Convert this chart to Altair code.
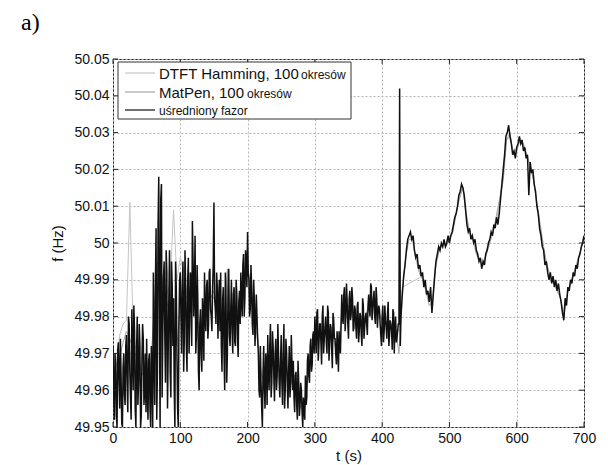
import altair as alt
import pandas as pd

# ---------------- data (frequency deviation from 50 Hz, in mHz) ----------------
# averaged phasor ("uśredniony fazor")
black_a = [  # t = 0, 2, .. 298
    -28, -48, -33, -50, -27, -45, -36, -50, -30, -44,
    -25, -46, -22, -42, -18, -40, -24, -50, -20, -38, -28, -47, -22, -44, -30,
    -26, -48, -30, -50, -35,
    -8, -44, 4, -35, 18, -50, 16, -25,
    -5, -38, -8, -30, -2, -42, -12,
    -15, -50, -12, -45, -22,
    -8, -30, -5, -26, -12, -35, -4, -22,
    -10, 6, -20, 2, -25,
    -15, -40, -18, -35, -20,
    -8, -24, -10, -22, -7, -20, -12, 11, -18, -8, -26, -10,
    -8, -35, -12, -40, -15, -30, -7, -28,
    -10, -30, -12, -28, -14, -31, -13,
    -8, -20, -3, -15, -5, 3, -10, -18,
    -12, -25, -15, -22, -20,
    -30, -42, -38, -50, -28, -45, -32,
    -25, -40, -22, -38, -28, -43, -26, -36, -30, -42,
    -25, -44, -22, -40, -30, -45, -28, -38, -33,
    -32, -46, -35, -48, -38, -44, -40, -50, -45,
    -36, -42, -30, -38, -26, -33, -24,
]
black_a_odd = [  # t = 1, 3, .. 299
    -40, -30, -47, -29, -38, -26, -49, -34, -41, -28,
    -38, -20, -35, -48, -28, -17, -45, -30, -44, -22, -50, -32, -26, -40, -46,
    -40, -32, -45, -28, -50,
    -30, -12, -48, 5, -20, 12, -42, -10,
    -25, -2, -45, -15, -35, -5, -28,
    -40, -5, -30, -50, -10,
    -20, -12, -35, -2, -28, -10, -30, -8,
    -28, -5, -12, -30, -6,
    -35, -22, -30, -15, -32,
    -20, -12, -26, -8, -18, -24, -6, -15, -22, -12, -16, -24,
    -28, -15, -30, -8, -38, -12, -25, -18,
    -24, -14, -27, -10, -25, -16, -22,
    -15, -6, -20, -2, -12, -8, -20, -6,
    -22, -10, -28, -14, -26,
    -40, -28, -45, -35, -40, -30, -44,
    -35, -28, -42, -24, -36, -30, -40, -22, -38, -32,
    -38, -30, -45, -26, -38, -35, -42, -25, -40,
    -42, -36, -44, -32, -47, -38, -46, -42, -48,
    -44, -32, -36, -28, -35, -25, -30,
]
black_b = [  # t = 300, 302, .. 428
    -20, -30, -18, -28, -22, -33, -17, -26, -20, -30, -19, -27, -23, -34, -21,
    -26, -33, -28, -24, -30,
    -14, -22, -12, -20, -16, -26, -13, -19, -15, -23,
    -18, -26, -16, -24, -20, -28, -17, -23, -19, -25,
    -14, -20, -12, -18, -13, -22, -15, -19,
    -18, -25, -20, -27, -17, -23, -19, -28, -21, -24, -18, -30, -20, -26, -22,
    42, -20,
]
black_b_odd = [  # t = 301, 303, .. 427
    -25, -19, -32, -22, -27, -20, -30, -23, -27, -17, -32, -22, -29, -19, -26,
    -30, -24, -35, -27, -22,
    -20, -14, -24, -11, -22, -15, -21, -12, -24, -17,
    -23, -17, -27, -19, -25, -15, -26, -20, -22, -17,
    -18, -11, -21, -15, -20, -12, -23, -17,
    -22, -28, -17, -24, -21, -26, -16, -25, -22, -29, -19, -23, -27, -24, -22, -28,
]
black_c = [  # t = 430, 432, .. 700
    -14, -9, -6, -2, 1, 2, 3, 1, 2, -2,
    -4, -3, -7, -6, -9, -8, -12, -10, -14, -13,
    -16, -12, -19, -14, -9, -5, -3, -1, -2, 0,
    -1, 1, -1, 0, 2, 0, 2, 3, 5, 7,
    8, 10, 13, 14, 16, 15, 13, 9, 5, 3,
    4, 1, 2, 0, 1, -2, -3, -5, -4, -7,
    -5, -6, -3, -2, 0, 1, 3, 2, 5, 4,
    7, 5, 8, 12, 16, 20, 24, 29, 30, 32,
    29, 27, 24, 25, 23, 26, 27, 29, 27, 28,
    25, 26, 23, 24, 13, 22, 19, 20, 16, 14,
    10, 8, 4, 2, -1, -2, -6, -5, -8, -10,
    -8, -11, -9, -12, -10, -13, -11, -14, -16, -19,
    -21, -15, -17, -12, -13, -10, -11, -8, -9, -6,
    -7, -4, -3, -1, 0, 2,
]

# DTFT Hamming, 100 periods: every 5 s, no samples between 430 s and 460 s
dtft_t = list(range(0, 431, 5)) + list(range(460, 701, 5))
dtft_v = [
    -38, -33, -25, -22, -21, 11, -24, -30, -33, -35,
    -37, -38, -25, -8, -5, -12, -14, -11, 9, -10,
    -4, -8, -14, -12, -10, -22, -24, -18, -15, -14,
    -15, -16, -20, -23, -20, -18, -17, -20, -14, -10,
    -8, -12, -18, -25, -35, -38, -34, -32, -33, -35,
    -34, -36, -35, -38, -40, -42, -44, -45, -35, -30,
    -25, -24, -23, -24, -22, -25, -28, -30, -20, -17,
    -18, -19, -20, -22, -22, -21, -18, -15, -16, -18,
    -22, -21, -22, -23, -22, -24, -12,
    -9, -12, -16, -15, -5, -1, -1, 0, 1, 3,
    8, 13, 15, 7, 3, 1, -2, -5, -6, -2,
    1, 3, 6, 12, 20, 28, 29, 24, 26, 28,
    26, 24, 21, 17, 10, 4, -2, -6, -9, -11,
    -12, -15, -19, -14, -11, -8, -6, -2, 1,
]

# MatPen, 100 periods: every 5 s, no samples between 565 s and 580 s
matpen_t = list(range(0, 566, 5)) + list(range(580, 701, 5))
matpen_v = [
    -40, -36, -31, -27, -24, -26, -29, -31, -34, -36,
    -38, -36, -22, -6, -4, -14, -16, -20, -24, -28,
    -17, -13, -15, -12, -9, -23, -23, -17, -14, -15,
    -13, -17, -21, -22, -7, -20, -18, -19, -13, -9,
    -6, -13, -19, -27, -36, -37, -33, -33, -34, -34,
    -35, -35, -36, -37, -41, -43, -45, -44, -36, -31,
    -24, -25, -22, -23, -23, -26, -27, -29, -19, -18,
    -17, -20, -21, -21, -23, -20, -17, -16, -15, -19,
    -21, -22, -21, -24, -23, -30, -13, -4, 1, 1,
    -4, -8, -10, -13, -17, -16, -6, -2, 0, -1,
    1, 3, 8, 12, 15, 8, 3, 1, -3, -5,
    -6, -3, 0, 3,
    17, 28, 30, 24, 25, 28, 27, 24, 21, 17,
    11, 5, -1, -6, -9, -11, -13, -15, -20, -14,
    -11, -8, -5, -2, 2,
]

y_ticks = [49.95, 49.96, 49.97, 49.98, 49.99, 50.0, 50.01, 50.02, 50.03, 50.04, 50.05]
x_ticks = [0, 100, 200, 300, 400, 500, 600, 700]
legend_main = ["DTFT Hamming, 100", "MatPen, 100", "uśredniony fazor"]
legend_small = ["okresów", "okresów", ""]
series_colors = ["#c4c4c4", "#a6a6a6", "#111111"]

# ---------------- tables ----------------
pairs = ([(2 * i, v) for i, v in enumerate(black_a)]
         + [(1 + 2 * i, v) for i, v in enumerate(black_a_odd)]
         + [(300 + 2 * i, v) for i, v in enumerate(black_b)]
         + [(301 + 2 * i, v) for i, v in enumerate(black_b_odd)]
         + [(430 + 2 * i, v) for i, v in enumerate(black_c)])
pairs.sort(key=lambda p: p[0])
df_black = pd.DataFrame({"t": [p[0] for p in pairs], "f": [50 + p[1] / 1000 for p in pairs]})
df_dtft = pd.DataFrame({"t": dtft_t, "f": [50 + v / 1000 for v in dtft_v]})
df_matpen = pd.DataFrame({"t": matpen_t, "f": [50 + v / 1000 for v in matpen_v]})
df_yt = pd.DataFrame({"f": y_ticks})
df_xt = pd.DataFrame({"t": x_ticks})
one = pd.DataFrame({"k": [0]})

W, H = 471, 368
FONT = "Liberation Sans"

xs = alt.Scale(domain=[0, 700], nice=False, zero=False)
ys = alt.Scale(domain=[49.95, 50.05], nice=False, zero=False)
X = alt.X("t:Q", scale=xs, axis=alt.Axis(values=x_ticks, title="t (s)", labelPadding=4,
                                         titlePadding=3, labelFlush=False))
Y = alt.Y("f:Q", scale=ys, axis=alt.Axis(values=y_ticks, format="~g", title="f (Hz)",
                                         labelPadding=4, titlePadding=8))

l_dtft = alt.Chart(df_dtft).mark_line(color=series_colors[0], strokeWidth=1, clip=True).encode(x=X, y=Y)
l_mat = alt.Chart(df_matpen).mark_line(color=series_colors[1], strokeWidth=1, clip=True).encode(x=X, y=Y)
l_black = alt.Chart(df_black).mark_line(color=series_colors[2], strokeWidth=1.5, clip=True).encode(x=X, y=Y)

# inward tick marks on all four sides
tk = "#222"
t_left = alt.Chart(df_yt).mark_rule(color=tk).encode(y=Y, x=alt.value(0), x2=alt.value(5))
t_right = alt.Chart(df_yt).mark_rule(color=tk).encode(y=Y, x=alt.value(W - 5), x2=alt.value(W))
t_bot = alt.Chart(df_xt).mark_rule(color=tk).encode(x=X, y=alt.value(H - 5), y2=alt.value(H))
t_top = alt.Chart(df_xt).mark_rule(color=tk).encode(x=X, y=alt.value(0), y2=alt.value(5))

# legend box
box = alt.Chart(one).mark_rect(fill="white", stroke="#333", strokeWidth=1).encode(
    x=alt.value(5), x2=alt.value(238), y=alt.value(3), y2=alt.value(60))
leg_layers = [box]
row_y = [14, 33, 51]
main_size = [15, 15, 12]
small_x = [188, 134, 0]
for i in range(3):
    leg_layers.append(alt.Chart(one).mark_rule(color=series_colors[i], strokeWidth=1.2).encode(
        x=alt.value(12), x2=alt.value(42), y=alt.value(row_y[i])))
    leg_layers.append(alt.Chart(one).mark_text(font=FONT, fontSize=main_size[i], align="left",
                                               baseline="middle", color="#111").encode(
        x=alt.value(46), y=alt.value(row_y[i] + 1), text=alt.value(legend_main[i])))
    if legend_small[i]:
        leg_layers.append(alt.Chart(one).mark_text(font=FONT, fontSize=12, align="left",
                                                   baseline="middle", color="#111").encode(
            x=alt.value(small_x[i]), y=alt.value(row_y[i] + 2), text=alt.value(legend_small[i])))

panel_label = alt.Chart(one).mark_text(font="Liberation Serif", fontSize=24, align="left",
                                       baseline="middle", color="#000").encode(
    x=alt.value(-92), y=alt.value(-36), text=alt.value("a)"))

chart = alt.layer(l_dtft, l_mat, l_black, t_left, t_right, t_bot, t_top, *leg_layers, panel_label).properties(
    width=W, height=H,
    autosize=alt.AutoSizeParams(type="none"),
    padding={"left": 113, "top": 59, "right": 24, "bottom": 38},
    background="white",
).configure_view(stroke="#222", strokeWidth=1).configure_axis(
    labelFont=FONT, titleFont=FONT, labelFontSize=14, titleFontSize=15,
    labelColor="#111", titleColor="#111", titleFontWeight="normal",
    grid=True, gridColor="#b4b4b4", gridDash=[2, 2], gridWidth=1,
    ticks=False, domain=False,
)

chart.save("out.html", embed_options={"renderer": "svg", "actions": False})
